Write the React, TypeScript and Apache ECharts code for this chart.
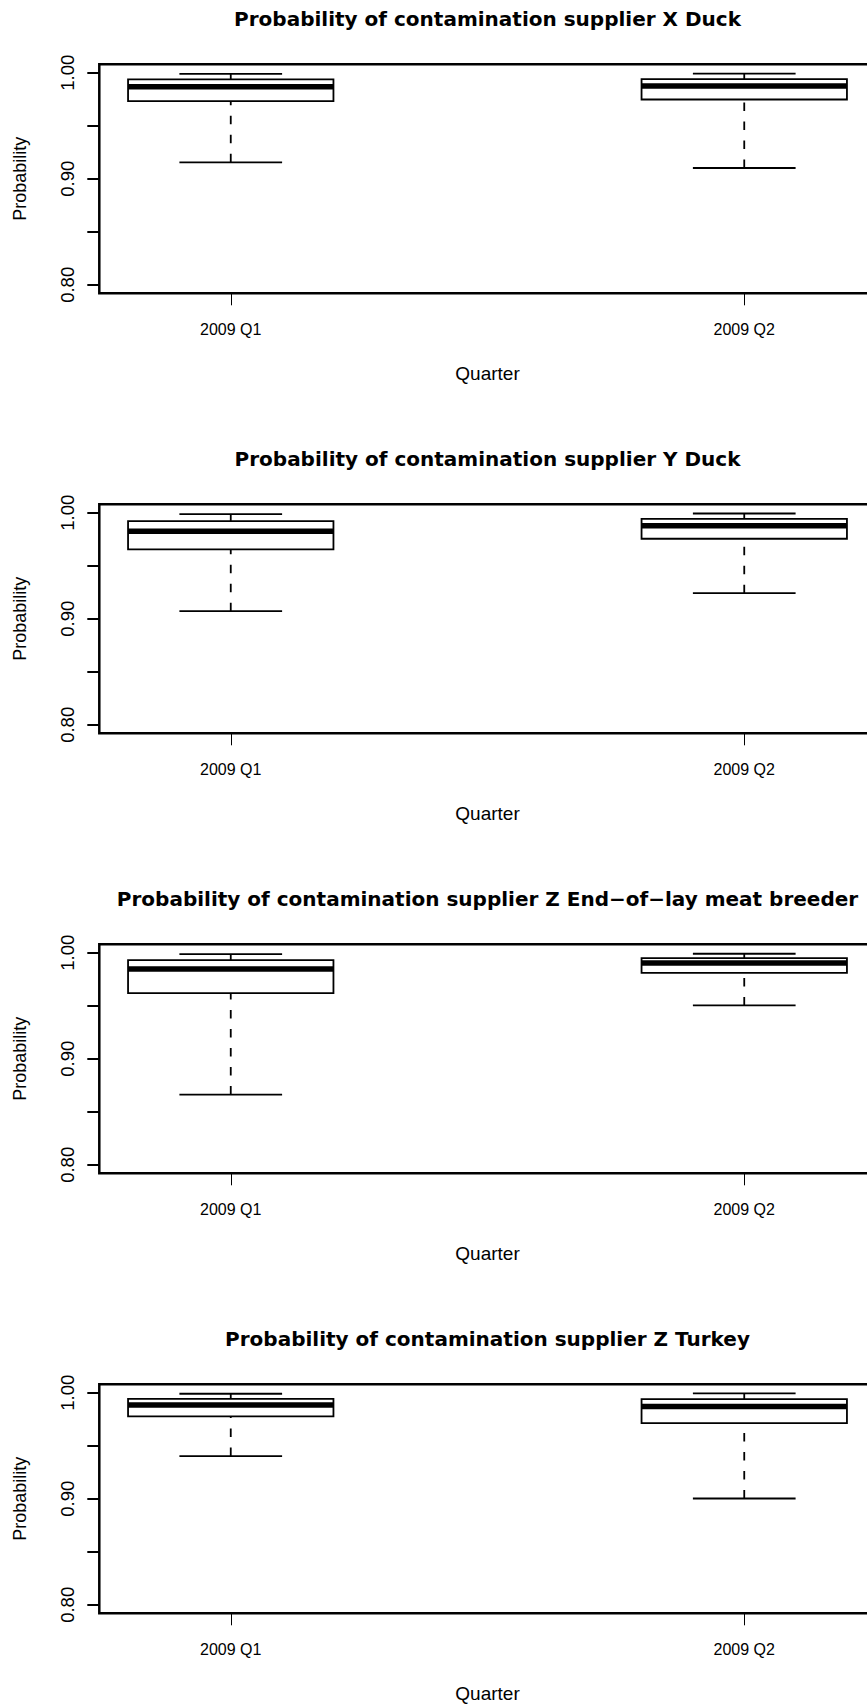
import React, { useEffect, useRef } from 'react';
import * as echarts from 'echarts';

const categories = ['2009 Q1', '2009 Q2'];
const xPositions = [1, 2];

const panelTitles = [
  'Probability of contamination supplier X Duck',
  'Probability of contamination supplier Y Duck',
  'Probability of contamination supplier Z End\u2212of\u2212lay meat breeder',
  'Probability of contamination supplier Z Turkey',
];

// each box: [lower whisker, Q1, median, Q3, upper whisker]
const supplierXDuck = [
  [0.9155, 0.9732, 0.9868, 0.9938, 0.9989],
  [0.9102, 0.9748, 0.9875, 0.994, 0.9992],
];
const supplierYDuck = [
  [0.9072, 0.9654, 0.9826, 0.9921, 0.9987],
  [0.9242, 0.9755, 0.9877, 0.9943, 0.9993],
];
const supplierZEndOfLay = [
  [0.8663, 0.962, 0.9846, 0.9931, 0.9988],
  [0.9503, 0.9811, 0.9903, 0.995, 0.9991],
];
const supplierZTurkey = [
  [0.9403, 0.9777, 0.9884, 0.9943, 0.9991],
  [0.9003, 0.9713, 0.9871, 0.994, 0.9994],
];
const panelStats = [supplierXDuck, supplierYDuck, supplierZEndOfLay, supplierZTurkey];

const yTickValues = [0.8, 0.85, 0.9, 0.95, 1.0];
const yLabelValues = [0.8, 0.9, 1.0];
const yMin = 0.792;
const yMax = 1.008;
const xMin = 0.744;
const xMax = 2.256;

const yAxisName = 'Probability';
const xAxisName = 'Quarter';

const PANEL_STEP = 440;
const GRID_TOP = 64.3;
const GRID_LEFT = 99.3;
const GRID_W = 776.4;
const GRID_H = 229;

const AXIS_FONT = '"Liberation Sans", Arial, Helvetica, sans-serif';
const TITLE_FONT = '"DejaVu Sans", sans-serif';

function buildOption() {
  const grid: any[] = [];
  const xAxis: any[] = [];
  const yAxis: any[] = [];
  const series: any[] = [];
  const title: any[] = [];

  panelStats.forEach((stats, k) => {
    const top = GRID_TOP + PANEL_STEP * k;
    grid.push({
      left: GRID_LEFT,
      top,
      width: GRID_W,
      height: GRID_H,
      show: true,
      borderColor: '#000',
      borderWidth: 2.5,
      backgroundColor: 'transparent',
      containLabel: false,
      outerBoundsMode: 'none',
    });
    title.push({
      text: panelTitles[k],
      left: GRID_LEFT + GRID_W / 2,
      top: 8.5 + PANEL_STEP * k,
      textAlign: 'center',
      padding: 0,
      textStyle: {
        fontFamily: TITLE_FONT,
        fontWeight: 'bold',
        fontSize: 20,
        color: '#000',
      },
    });
    xAxis.push({
      type: 'value',
      gridIndex: k,
      min: xMin,
      max: xMax,
      axisLine: { show: false },
      splitLine: { show: false },
      axisTick: {
        show: true,
        customValues: xPositions,
        length: 12,
        lineStyle: { color: '#000', width: 1 },
      },
      axisLabel: {
        customValues: xPositions,
        formatter: (v: number) => categories[Math.round(v) - 1] ?? '',
        fontFamily: AXIS_FONT,
        fontSize: 16,
        color: '#000',
        margin: 28,
      },
      name: xAxisName,
      nameLocation: 'middle',
      nameGap: 71,
      nameTextStyle: { fontFamily: AXIS_FONT, fontSize: 19, color: '#000' },
    });
    yAxis.push({
      type: 'value',
      gridIndex: k,
      min: yMin,
      max: yMax,
      axisLine: { show: false },
      splitLine: { show: false },
      axisTick: {
        show: true,
        customValues: yTickValues,
        length: 12,
        lineStyle: { color: '#000', width: 2 },
      },
      axisLabel: {
        customValues: yLabelValues,
        rotate: 90,
        formatter: (v: number) => v.toFixed(2),
        fontFamily: AXIS_FONT,
        fontSize: 18.5,
        color: '#000',
        margin: 22,
      },
      name: yAxisName,
      nameLocation: 'middle',
      nameGap: 70.5,
      nameTextStyle: { fontFamily: AXIS_FONT, fontSize: 18, color: '#000' },
    });
    series.push({
      type: 'custom',
      xAxisIndex: k,
      yAxisIndex: k,
      clip: false,
      data: stats.map((s, i) => [xPositions[i], ...s]),
      encode: { x: 0, y: [1, 2, 3, 4, 5] },
      renderItem: (params: any, api: any) => {
        const x = api.value(0);
        const low = api.value(1);
        const q1 = api.value(2);
        const med = api.value(3);
        const q3 = api.value(4);
        const high = api.value(5);
        const c = (xx: number, yy: number) => api.coord([xx, yy]);
        const seg = (a: number[], b: number[], style: any) => ({
          type: 'line',
          shape: { x1: a[0], y1: a[1], x2: b[0], y2: b[1] },
          style: { stroke: '#000', fill: null, ...style },
        });
        const tl = c(x - 0.2, q3);
        const br = c(x + 0.2, q1);
        return {
          type: 'group',
          children: [
            seg(c(x, low), c(x, q1), { lineWidth: 1.8, lineDash: [8.5, 10.5] }),
            seg(c(x, high), c(x, q3), { lineWidth: 1.8, lineDash: [8.5, 10.5] }),
            seg(c(x - 0.1, low), c(x + 0.1, low), { lineWidth: 1.8 }),
            seg(c(x - 0.1, high), c(x + 0.1, high), { lineWidth: 1.8 }),
            {
              type: 'rect',
              shape: { x: tl[0], y: tl[1], width: br[0] - tl[0], height: br[1] - tl[1] },
              style: { fill: '#fff', stroke: '#000', lineWidth: 1.8 },
            },
            seg(c(x - 0.2, med), c(x + 0.2, med), { lineWidth: 5.5 }),
          ],
        };
      },
    });
  });

  return {
    animation: false,
    backgroundColor: '#fff',
    title,
    grid,
    xAxis,
    yAxis,
    series,
  };
}

export default function App() {
  const ref = useRef<HTMLDivElement>(null);
  useEffect(() => {
    if (!ref.current) return;
    const chart = echarts.init(ref.current, undefined, { renderer: 'svg' });
    chart.setOption(buildOption() as any);
    return () => chart.dispose();
  }, []);
  return (
    <div
      ref={ref}
      style={{ position: 'absolute', left: 0, top: 0, width: 867, height: 1706, background: '#fff' }}
    />
  );
}
